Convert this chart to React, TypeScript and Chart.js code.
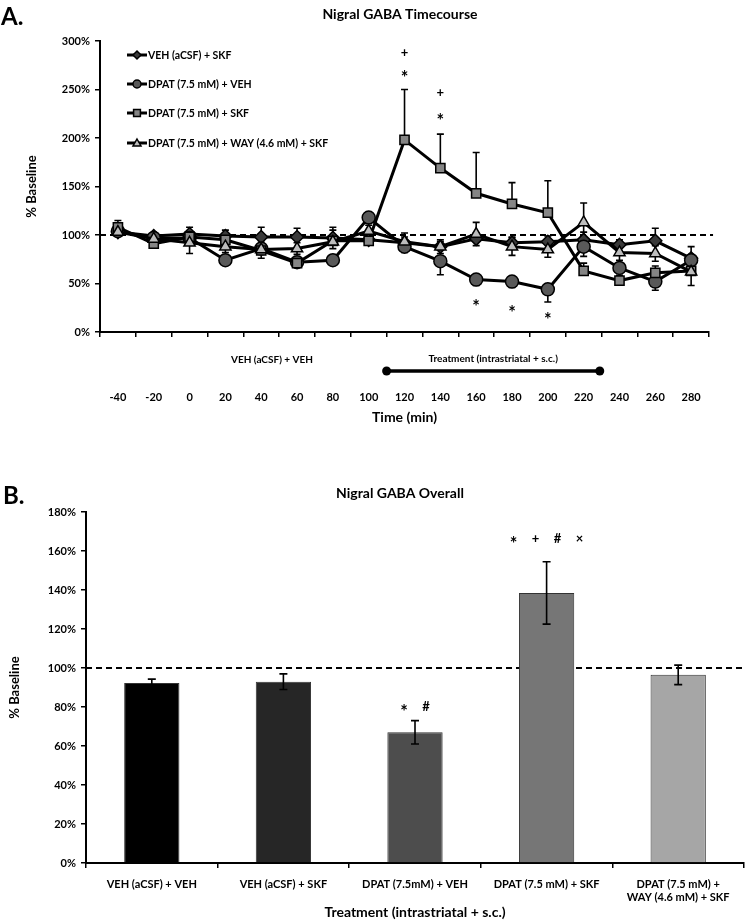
import React, { useEffect, useRef } from 'react';
import { Chart, registerables } from 'chart.js';

Chart.register(...registerables);

const FONT = 'Lato, "Open Sans", sans-serif';

// ---------- Panel A: Nigral GABA Timecourse ----------
const timeLabels = ['-40', '-20', '0', '20', '40', '60', '80', '100', '120', '140', '160', '180', '200', '220', '240', '260', '280'];

const vehSkf = [103, 99, 101, 99, 98, 98, 97, 95, 92, 88, 96, 92, 93, 95, 90, 94, 76];
const vehSkfErr = [5, 3, 7, 6, 10, 9, 8, 6, 6, 5, 6, 6, 6, 8, 5, 13, 12];

const dpatVeh = [104, 97, 97, 74, 86, 72, 74, 118, 88, 73, 54, 52, 44, 88, 66, 52, 74];
const dpatVehErr = [4, 3, 4, 4, 5, 4, 5, 5, 6, 14, 6, 6, 13, 10, 6, 9, 8];

const dpatSkf = [108, 91, 98, 95, 84, 71, 94, 94, 198, 169, 143, 132, 123, 63, 53, 61, 63];
const dpatSkfErr = [7, 4, 5, 6, 6, 5, 14, 5, 52, 35, 42, 22, 33, 8, 5, 7, 7];

const dpatWaySkf = [103, 96, 92, 88, 85, 86, 93, 104, 93, 88, 101, 88, 85, 113, 82, 81, 62];
const dpatWaySkfErr = [4, 3, 11, 6, 9, 6, 7, 6, 9, 7, 12, 9, 8, 20, 8, 8, 14];

const seriesNames = ['VEH (aCSF) + SKF', 'DPAT (7.5 mM) + VEH', 'DPAT (7.5 mM) + SKF', 'DPAT (7.5 mM) + WAY (4.6 mM) + SKF'];
const seriesColors = ['#3a3a3a', '#595959', '#858585', '#bdbdbd'];
const seriesStyles = ['rectRot', 'circle', 'rect', 'triangle'];
const seriesErrDir = ['plus', 'minus', 'plus', 'both'];

const sigTimeLabels = ['120', '120', '140', '140', '160', '180', '200'];
const sigLevels = [288, 267, 247, 223, 31, 25, 17];
const sigMarks = ['+', '*', '+', '*', '*', '*', '*'];

const yTicksA = [0, 50, 100, 150, 200, 250, 300];

const baselinePhaseText = 'VEH (aCSF) + VEH';
const baselinePhaseCenter = 4.3; // category index
const treatmentText = 'Treatment (intrastriatal + s.c.)';
const treatmentSpan = [7.5, 13.45]; // category indices

// ---------- Panel B: Nigral GABA Overall ----------
const groupLabels = [
  ['VEH (aCSF) + VEH'],
  ['VEH (aCSF) + SKF'],
  ['DPAT (7.5mM) + VEH'],
  ['DPAT (7.5 mM) + SKF'],
  ['DPAT (7.5 mM) +', 'WAY (4.6 mM) + SKF'],
];
const overallValues = [92.3, 93, 67, 138.5, 96.5];
const overallErrors = [2, 4, 6, 16, 5];
const overallColors = ['#000000', '#262626', '#4d4d4d', '#767676', '#a6a6a6'];
const overallSigMarks = [[], [], ['*', '#'], ['*', '+', '#', '\u00d7'], []];
const overallSigLevel = [0, 0, 80, 166, 0];

function drawMarker(ctx: CanvasRenderingContext2D, style: string, x: number, y: number, r: number, fill: string) {
  ctx.save();
  ctx.fillStyle = fill;
  ctx.strokeStyle = '#000';
  ctx.lineWidth = 1.5;
  ctx.beginPath();
  if (style === 'circle') {
    ctx.arc(x, y, r, 0, Math.PI * 2);
  } else if (style === 'rect') {
    ctx.rect(x - r * 0.85, y - r * 0.85, r * 1.7, r * 1.7);
  } else if (style === 'rectRot') {
    ctx.moveTo(x, y - r);
    ctx.lineTo(x + r, y);
    ctx.lineTo(x, y + r);
    ctx.lineTo(x - r, y);
    ctx.closePath();
  } else {
    ctx.moveTo(x, y - r);
    ctx.lineTo(x + r, y + r * 0.75);
    ctx.lineTo(x - r, y + r * 0.75);
    ctx.closePath();
  }
  ctx.fill();
  ctx.stroke();
  ctx.restore();
}

function drawSig(ctx: CanvasRenderingContext2D, m: string, x: number, y: number) {
  if (m === '*') {
    ctx.font = `bold 18px ${FONT}`;
    ctx.fillText(m, x, y + 5);
  } else {
    ctx.font = `bold 13px ${FONT}`;
    ctx.fillText(m, x, y);
  }
}

const panelAPlugin = {
  id: 'panelA',
  beforeDatasetsDraw(chart: any) {
    const { ctx, chartArea, scales } = chart;
    const y = scales.y;
    ctx.save();
    ctx.strokeStyle = '#000';
    ctx.lineWidth = 2;
    ctx.setLineDash([6, 4]);
    const py = y.getPixelForValue(100);
    ctx.beginPath();
    ctx.moveTo(chartArea.left, py);
    ctx.lineTo(chartArea.right + 4, py);
    ctx.stroke();
    ctx.setLineDash([]);
    ctx.lineWidth = 1.6;
    chart.data.datasets.forEach((ds: any, i: number) => {
      const meta = chart.getDatasetMeta(i);
      meta.data.forEach((pt: any, j: number) => {
        const v = ds.data[j];
        const e = ds.errors[j];
        const top = ds.errDir === 'minus' ? v : v + e;
        const bot = ds.errDir === 'plus' ? v : v - e;
        const yt = y.getPixelForValue(top);
        const yb = y.getPixelForValue(bot);
        ctx.beginPath();
        ctx.moveTo(pt.x, yt);
        ctx.lineTo(pt.x, yb);
        if (ds.errDir !== 'minus') {
          ctx.moveTo(pt.x - 3.5, yt);
          ctx.lineTo(pt.x + 3.5, yt);
        }
        if (ds.errDir !== 'plus') {
          ctx.moveTo(pt.x - 3.5, yb);
          ctx.lineTo(pt.x + 3.5, yb);
        }
        ctx.stroke();
      });
    });
    ctx.restore();
  },
  afterDraw(chart: any) {
    const { ctx, chartArea, scales } = chart;
    const x = scales.x;
    const y = scales.y;
    ctx.save();
    ctx.fillStyle = '#000';
    ctx.textBaseline = 'middle';
    ctx.textAlign = 'left';
    ctx.font = `bold 24px ${FONT}`;
    ctx.fillText('A.', 1, 17);
    ctx.textAlign = 'center';
    ctx.font = `bold 14px ${FONT}`;
    ctx.fillText('Nigral GABA Timecourse', 400, 14);
    // legend
    const lx = chartArea.left + 27;
    const rowsY = [55, 84, 113, 143];
    ctx.font = `bold 10.5px ${FONT}`;
    ctx.textAlign = 'left';
    seriesNames.forEach((name, i) => {
      const ly = rowsY[i];
      ctx.strokeStyle = '#000';
      ctx.lineWidth = 3;
      ctx.beginPath();
      ctx.moveTo(lx, ly);
      ctx.lineTo(lx + 20, ly);
      ctx.stroke();
      drawMarker(ctx, seriesStyles[i], lx + 10, ly, 4, seriesColors[i]);
      ctx.fillStyle = '#000';
      ctx.fillText(name, lx + 21, ly + 0.5);
    });
    // significance marks
    ctx.textAlign = 'center';
    sigMarks.forEach((m, i) => {
      const px = x.getPixelForValue(timeLabels.indexOf(sigTimeLabels[i]));
      const py = y.getPixelForValue(sigLevels[i]);
      drawSig(ctx, m, px, py);
    });
    // phase annotations
    ctx.font = `bold 10px ${FONT}`;
    ctx.fillText(baselinePhaseText, x.getPixelForValue(baselinePhaseCenter), chartArea.bottom + 28);
    const tx1 = x.getPixelForValue(treatmentSpan[0]);
    const tx2 = x.getPixelForValue(treatmentSpan[1]);
    ctx.fillText(treatmentText, (tx1 + tx2) / 2, chartArea.bottom + 27);
    const by = chartArea.bottom + 39;
    ctx.strokeStyle = '#000';
    ctx.lineWidth = 3.5;
    ctx.beginPath();
    ctx.moveTo(tx1, by);
    ctx.lineTo(tx2, by);
    ctx.stroke();
    [tx1, tx2].forEach((px) => {
      ctx.beginPath();
      ctx.arc(px, by, 4.5, 0, Math.PI * 2);
      ctx.fill();
    });
    ctx.restore();
  },
};

const panelBPlugin = {
  id: 'panelB',
  beforeDatasetsDraw(chart: any) {
    const { ctx, chartArea, scales } = chart;
    const py = scales.y.getPixelForValue(100);
    ctx.save();
    ctx.strokeStyle = '#000';
    ctx.lineWidth = 2;
    ctx.setLineDash([6, 4]);
    ctx.beginPath();
    ctx.moveTo(chartArea.left, py);
    ctx.lineTo(chartArea.right, py);
    ctx.stroke();
    ctx.restore();
  },
  afterDatasetsDraw(chart: any) {
    const { ctx, scales } = chart;
    const y = scales.y;
    const meta = chart.getDatasetMeta(0);
    ctx.save();
    ctx.strokeStyle = '#000';
    ctx.lineWidth = 1.6;
    meta.data.forEach((bar: any, j: number) => {
      const v = overallValues[j];
      const e = overallErrors[j];
      const yt = y.getPixelForValue(v + e);
      const yb = y.getPixelForValue(v - e);
      ctx.beginPath();
      ctx.moveTo(bar.x, yt);
      ctx.lineTo(bar.x, yb);
      ctx.moveTo(bar.x - 4, yt);
      ctx.lineTo(bar.x + 4, yt);
      ctx.moveTo(bar.x - 4, yb);
      ctx.lineTo(bar.x + 4, yb);
      ctx.stroke();
    });
    ctx.restore();
  },
  afterDraw(chart: any) {
    const { ctx, scales } = chart;
    const x = scales.x;
    const y = scales.y;
    ctx.save();
    ctx.fillStyle = '#000';
    ctx.textBaseline = 'middle';
    ctx.textAlign = 'left';
    ctx.font = `bold 24px ${FONT}`;
    ctx.fillText('B.', 3, 46);
    ctx.textAlign = 'center';
    ctx.font = `bold 14px ${FONT}`;
    ctx.fillText('Nigral GABA Overall', 400, 43);
    const gap = 22;
    overallSigMarks.forEach((marks, i) => {
      if (!marks.length) return;
      const cx = x.getPixelForValue(i);
      const py = y.getPixelForValue(overallSigLevel[i]);
      const start = cx - ((marks.length - 1) * gap) / 2;
      marks.forEach((m, k) => drawSig(ctx, m, start + k * gap, py));
    });
    ctx.restore();
  },
};

const tickFont = { family: FONT, size: 11, weight: 'bold' as const };

export default function App() {
  const refA = useRef<HTMLCanvasElement>(null);
  const refB = useRef<HTMLCanvasElement>(null);

  useEffect(() => {
    const values = [vehSkf, dpatVeh, dpatSkf, dpatWaySkf];
    const errs = [vehSkfErr, dpatVehErr, dpatSkfErr, dpatWaySkfErr];
    const order = [3, 2, 1, 0];
    const chartA = new Chart(refA.current!, {
      type: 'line',
      data: {
        labels: timeLabels,
        datasets: values.map((d, i) => ({
          label: seriesNames[i],
          data: d,
          errors: errs[i],
          errDir: seriesErrDir[i],
          borderColor: '#000',
          borderWidth: 3,
          backgroundColor: seriesColors[i],
          pointStyle: seriesStyles[i],
          pointRadius: seriesStyles[i] === 'rectRot' ? 6.5 : 6.5,
          pointBorderColor: '#000',
          pointBorderWidth: 1.5,
          pointBackgroundColor: seriesColors[i],
          tension: 0,
          order: order[i],
        })) as any,
      },
      options: {
        animation: false,
        responsive: false,
        maintainAspectRatio: false,
        layout: { padding: { top: 41, right: 44, left: 0, bottom: 0 } },
        plugins: { legend: { display: false }, tooltip: { enabled: false } },
        scales: {
          x: {
            type: 'category',
            offset: true,
            grid: { offset: true, drawOnChartArea: false, tickLength: 5, color: '#000', lineWidth: 1.5 },
            border: { color: '#000', width: 2 },
            ticks: { padding: 54, color: '#000', font: tickFont, maxRotation: 0, autoSkip: false },
            title: { display: true, text: 'Time (min)', color: '#000', font: { family: FONT, size: 14, weight: 'bold' }, padding: { top: 0, bottom: 4 } },
            afterFit: (s: any) => { s.height = 98; },
          },
          y: {
            min: 0,
            max: 300,
            afterBuildTicks: (s: any) => { s.ticks = yTicksA.map((v) => ({ value: v })); },
            ticks: { callback: (v: any) => `${v}%`, color: '#000', font: tickFont, padding: 5 },
            grid: { drawOnChartArea: false, tickLength: 5, color: '#000', lineWidth: 1.5 },
            border: { color: '#000', width: 2 },
            title: { display: true, text: '% Baseline', color: '#000', font: { family: FONT, size: 13, weight: 'bold' }, padding: { top: 24, bottom: 0 } },
            afterFit: (s: any) => { s.width = 100; },
          },
        },
      },
      plugins: [panelAPlugin],
    });

    const chartB = new Chart(refB.current!, {
      type: 'bar',
      data: {
        labels: groupLabels as any,
        datasets: [
          {
            data: overallValues,
            backgroundColor: overallColors,
            borderColor: '#333',
            borderWidth: 1,
            barPercentage: 0.42,
            categoryPercentage: 1,
          },
        ],
      },
      options: {
        animation: false,
        responsive: false,
        maintainAspectRatio: false,
        layout: { padding: { top: 62, right: 12, left: 0, bottom: 0 } },
        plugins: { legend: { display: false }, tooltip: { enabled: false } },
        scales: {
          x: {
            type: 'category',
            offset: true,
            grid: { offset: true, drawOnChartArea: false, tickLength: 5, color: '#000', lineWidth: 1.5 },
            border: { color: '#000', width: 2 },
            ticks: { padding: 10, color: '#000', font: tickFont, maxRotation: 0, autoSkip: false },
            title: { display: true, text: 'Treatment (intrastriatal + s.c.)', color: '#000', font: { family: FONT, size: 14, weight: 'bold' }, padding: { top: 0, bottom: 3 } },
            afterFit: (s: any) => { s.height = 61; },
          },
          y: {
            min: 0,
            max: 180,
            ticks: { stepSize: 20, callback: (v: any) => `${v}%`, color: '#000', font: tickFont, padding: 5 },
            grid: { drawOnChartArea: false, tickLength: 5, color: '#000', lineWidth: 1.5 },
            border: { color: '#000', width: 2 },
            title: { display: true, text: '% Baseline', color: '#000', font: { family: FONT, size: 13, weight: 'bold' }, padding: { top: 7, bottom: 0 } },
            afterFit: (s: any) => { s.width = 86; },
          },
        },
      },
      plugins: [panelBPlugin],
    });

    return () => {
      chartA.destroy();
      chartB.destroy();
    };
  }, []);

  return (
    <div style={{ position: 'absolute', left: 0, top: 0, width: 756, height: 924, background: '#fff' }}>
      <canvas ref={refA} width={756} height={430} style={{ display: 'block', width: 756, height: 430 }} />
      <div style={{ height: 20 }} />
      <canvas ref={refB} width={756} height={474} style={{ display: 'block', width: 756, height: 474 }} />
    </div>
  );
}
